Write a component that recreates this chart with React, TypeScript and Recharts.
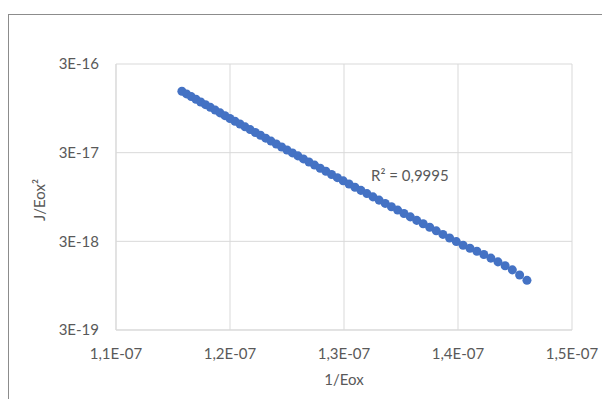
import React from "react";
import {
  ScatterChart,
  Scatter,
  XAxis,
  YAxis,
  ZAxis,
  CartesianGrid,
  Customized,
} from "recharts";

// 1/Eox values (cm/V)
const xValues = [
  1.1578e-7, 1.16188e-7, 1.16599e-7, 1.17013e-7, 1.1743e-7, 1.1785e-7, 1.18273e-7, 1.18699e-7,
  1.19128e-7, 1.1956e-7, 1.19995e-7, 1.20433e-7, 1.20875e-7, 1.2132e-7, 1.21768e-7, 1.2222e-7,
  1.22675e-7, 1.23133e-7, 1.23595e-7, 1.2406e-7, 1.24529e-7, 1.25001e-7, 1.25477e-7, 1.25957e-7,
  1.2644e-7, 1.26927e-7, 1.27417e-7, 1.27912e-7, 1.2841e-7, 1.28912e-7, 1.29419e-7, 1.29929e-7,
  1.30443e-7, 1.30961e-7, 1.31484e-7, 1.3201e-7, 1.32541e-7, 1.33076e-7, 1.33616e-7, 1.3416e-7,
  1.34708e-7, 1.35261e-7, 1.35818e-7, 1.3638e-7, 1.36947e-7, 1.37518e-7, 1.38095e-7, 1.38676e-7,
  1.39262e-7, 1.39852e-7, 1.40448e-7, 1.41049e-7, 1.41656e-7, 1.42267e-7, 1.42884e-7, 1.43506e-7,
  1.44134e-7, 1.44766e-7, 1.45405e-7, 1.46049e-7,
];

// J/Eox² values
const yValues = [
  1.476e-16, 1.379e-16, 1.287e-16, 1.201e-16, 1.12e-16, 1.044e-16, 9.73e-17, 9.06e-17,
  8.43e-17, 7.84e-17, 7.29e-17, 6.79e-17, 6.32e-17, 5.87e-17, 5.46e-17, 5.07e-17,
  4.71e-17, 4.37e-17, 4.05e-17, 3.76e-17, 3.48e-17, 3.22e-17, 2.98e-17, 2.76e-17,
  2.55e-17, 2.355e-17, 2.173e-17, 2.005e-17, 1.849e-17, 1.703e-17, 1.568e-17, 1.443e-17,
  1.329e-17, 1.224e-17, 1.127e-17, 1.036e-17, 9.52e-18, 8.75e-18, 8.03e-18, 7.36e-18,
  6.75e-18, 6.18e-18, 5.66e-18, 5.17e-18, 4.73e-18, 4.32e-18, 3.94e-18, 3.59e-18,
  3.27e-18, 2.98e-18, 2.71e-18, 2.51e-18, 2.32e-18, 2.13e-18, 1.94e-18, 1.76e-18,
  1.59e-18, 1.43e-18, 1.25e-18, 1.09e-18,
];

const xTicks = [1.1e-7, 1.2e-7, 1.3e-7, 1.4e-7, 1.5e-7];
const xTickLabels = ["1,1E-07", "1,2E-07", "1,3E-07", "1,4E-07", "1,5E-07"];
const yTicks = [3e-19, 3e-18, 3e-17, 3e-16];
const yTickLabels = ["3E-19", "3E-18", "3E-17", "3E-16"];

const rSquared = "R² = 0,9995";

const data = xValues.map((x, i) => ({ x, y: yValues[i] }));

const font = "Lato, 'Open Sans', sans-serif";
const textColor = "#595959";
const gridColor = "#d9d9d9";

const labelFor = (ticks: number[], labels: string[]) => (v: number) => {
  const i = ticks.findIndex((t) => Math.abs(t - v) / t < 1e-6);
  return i >= 0 ? labels[i] : "";
};

const Texts = () => (
  <g fontFamily={font} fontSize={15} fill={textColor}>
    <text x={344} y={384.5} textAnchor="middle">
      1/Eox
    </text>
    <text x={45} y={200} textAnchor="middle" transform="rotate(-90 45 200)">
      J/Eox²
    </text>
    <text x={371} y={180.5}>{rSquared}</text>
  </g>
);

export default function App() {
  return (
    <div
      style={{
        position: "fixed",
        left: 0,
        top: 0,
        width: 602,
        height: 399,
        overflow: "hidden",
        background: "#fff",
      }}
    >
      <div
        style={{
          position: "absolute",
          left: 8,
          top: 14,
          width: 700,
          height: 500,
          border: "1px solid #8c8c8c",
        }}
      />
      <div style={{ position: "absolute", left: 0, top: 0 }}>
        <ScatterChart
          width={602}
          height={399}
          margin={{ top: 64, right: 30, bottom: 39, left: 56 }}
        >
          <CartesianGrid stroke={gridColor} strokeWidth={1} />
          <XAxis
            type="number"
            dataKey="x"
            domain={[1.1e-7, 1.5e-7]}
            ticks={xTicks}
            tickFormatter={labelFor(xTicks, xTickLabels)}
            height={30}
            axisLine={{ stroke: gridColor }}
            tickLine={false}
            tickSize={0}
            tickMargin={18}
            tick={{ fill: textColor, fontSize: 15, fontFamily: font }}
            interval={0}
            allowDataOverflow
          />
          <YAxis
            type="number"
            dataKey="y"
            scale="log"
            domain={[3e-19, 3e-16]}
            ticks={yTicks}
            tickFormatter={labelFor(yTicks, yTickLabels)}
            width={60}
            axisLine={{ stroke: gridColor }}
            tickLine={false}
            tickSize={0}
            tickMargin={17}
            tick={{ fill: textColor, fontSize: 15, fontFamily: font }}
            interval={0}
            allowDataOverflow
          />
          <ZAxis range={[36, 36]} />
          <Scatter data={data} fill="#4472c4" isAnimationActive={false} />
          <Customized component={Texts} />
        </ScatterChart>
      </div>
    </div>
  );
}
